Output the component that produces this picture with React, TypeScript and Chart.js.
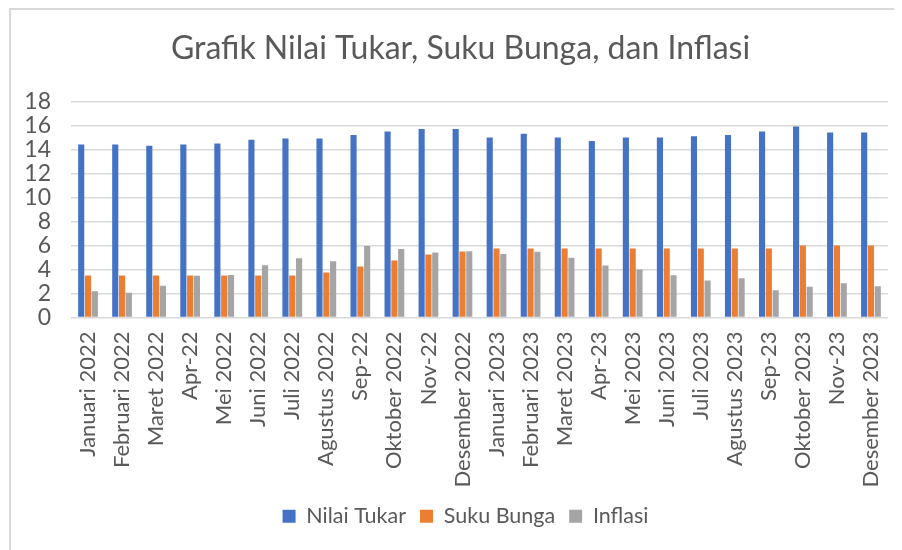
import React, { useEffect, useRef } from "react";
import { Chart, registerables } from "chart.js";

Chart.register(...registerables);

const categories = [
  "Januari 2022", "Februari 2022", "Maret 2022", "Apr-22", "Mei 2022", "Juni 2022",
  "Juli 2022", "Agustus 2022", "Sep-22", "Oktober 2022", "Nov-22", "Desember 2022",
  "Januari 2023", "Februari 2023", "Maret 2023", "Apr-23", "Mei 2023", "Juni 2023",
  "Juli 2023", "Agustus 2023", "Sep-23", "Oktober 2023", "Nov-23", "Desember 2023",
];

const nilaiTukar = [
  14.4, 14.4, 14.3, 14.4, 14.5, 14.8, 14.9, 14.9, 15.2, 15.5, 15.7, 15.7,
  15.0, 15.3, 15.0, 14.7, 15.0, 15.0, 15.1, 15.2, 15.5, 15.9, 15.4, 15.4,
];

const sukuBunga = [
  3.5, 3.5, 3.5, 3.5, 3.5, 3.5, 3.5, 3.75, 4.25, 4.75, 5.25, 5.5,
  5.75, 5.75, 5.75, 5.75, 5.75, 5.75, 5.75, 5.75, 5.75, 6.0, 6.0, 6.0,
];

const inflasi = [
  2.18, 2.06, 2.64, 3.47, 3.55, 4.35, 4.94, 4.69, 5.95, 5.71, 5.42, 5.51,
  5.28, 5.47, 4.97, 4.33, 4.0, 3.52, 3.08, 3.27, 2.28, 2.56, 2.86, 2.61,
];

const yTicks = [0, 2, 4, 6, 8, 10, 12, 14, 16, 18];

const FONT = "Lato";
const TEXT = "#595959";

const shiftPlugin = {
  id: "shiftBlocks",
  afterLayout(chart: any) {
    if (chart.legend) {
      chart.legend.left += 11;
      chart.legend.right += 11;
    }
    if (chart.titleBlock) {
      chart.titleBlock.left += 6;
      chart.titleBlock.right += 6;
    }
  },
};

export default function App() {
  const ref = useRef<HTMLCanvasElement>(null);
  useEffect(() => {
    const chart = new Chart(ref.current!, {
      type: "bar",
      data: {
        labels: categories,
        datasets: [
          { label: "Nilai Tukar", data: nilaiTukar, backgroundColor: "#4472C4" },
          { label: "Suku Bunga", data: sukuBunga, backgroundColor: "#ED7D31" },
          { label: "Inflasi", data: inflasi, backgroundColor: "#A5A5A5" },
        ],
      },
      plugins: [shiftPlugin],
      options: {
        responsive: false,
        animation: false,
        datasets: { bar: { categoryPercentage: 0.6, barPercentage: 0.9 } },
        layout: { padding: { left: 10, right: 14, top: 0, bottom: 13 } },
        plugins: {
          title: {
            display: true,
            text: "Grafik Nilai Tukar, Suku Bunga, dan Inflasi",
            color: TEXT,
            font: { family: FONT, size: 32, weight: "normal" },
            padding: { top: 19, bottom: 34 },
          },
          legend: {
            position: "bottom",
            labels: {
              color: TEXT,
              font: { family: FONT, size: 21.5 },
              boxWidth: 13,
              boxHeight: 13,
              padding: 14,
            },
          },
          tooltip: { enabled: false },
        },
        scales: {
          x: {
            afterFit: (axis: any) => {
              axis.height = 174;
              axis.paddingLeft = 0;
              axis.paddingRight = 0;
            },
            grid: { display: false, drawTicks: false },
            border: { display: false },
            ticks: {
              color: TEXT,
              font: { family: FONT, size: 22 },
              minRotation: 90,
              maxRotation: 90,
              autoSkip: false,
              padding: 14,
            },
          },
          y: {
            min: 0,
            max: 18,
            afterFit: (axis: any) => {
              axis.width = 50;
            },
            afterBuildTicks: (axis: any) => {
              axis.ticks = yTicks.map((v) => ({ value: v }));
            },
            grid: { color: "#d9d9d9", lineWidth: 1.5, drawTicks: false },
            border: { display: false },
            ticks: {
              color: TEXT,
              font: { family: FONT, size: 23 },
              padding: 20,
              autoSkip: false,
            },
          },
        },
      },
    });
    return () => chart.destroy();
  }, []);

  return (
    <div
      style={{
        marginLeft: 1,
        width: 891,
        height: 540,
        borderLeft: "2px solid #d9d9d9",
        borderTop: "2px solid #d9d9d9",
      }}
    >
      <canvas ref={ref} width={891} height={540} style={{ display: "block" }} />
    </div>
  );
}
